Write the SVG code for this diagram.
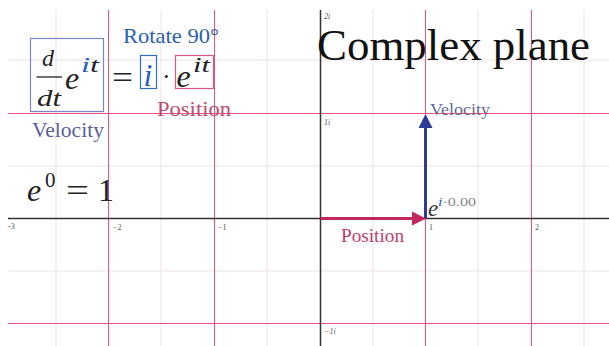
<svg xmlns="http://www.w3.org/2000/svg" width="609" height="346" viewBox="0 0 609 346">
<style>
.minor{stroke:#ebe1e5;stroke-width:1;fill:none}
.major{stroke:#e8507e;stroke-width:1;fill:none}
.axis{stroke:#333;stroke-width:1.5;fill:none}
text{font-family:"Liberation Serif","DejaVu Serif",serif}
.tick{font-size:8px;fill:#555}
.it{font-style:italic}
</style>
<rect width="609" height="346" fill="#fff"/>
<g id="grid">
<path class="minor" d="M56 10V346M161 10V346M267 10V346M373 10V346M478 10V346M584 10V346M8 60H609M8 166H609M8 271H609"/>
<path class="major" d="M108.5 10V346M214.5 10V346M425.5 10V346M531.5 10V346M8 113.5H609M8 323.5H609"/>
<path class="axis" d="M8 218.5H609M320.5 10V346"/>
<text class="tick" x="8" y="229">-3</text>
<text class="tick" x="113" y="230">−2</text>
<text class="tick" x="218" y="230">−1</text>
<text class="tick" x="429" y="230">1</text>
<text class="tick" x="535" y="230">2</text>
<text class="tick it" x="324" y="19">2i</text>
<text class="tick it" x="324" y="125">1i</text>
<text class="tick it" x="324" y="334">−1i</text>
</g>
<g id="title">
<text x="317" y="60" font-size="44" fill="#111" textLength="273" lengthAdjust="spacingAndGlyphs">Complex plane</text>
</g>
<g id="velocity-term">
<rect x="30.5" y="38.5" width="73" height="73" fill="none" stroke="#7b85cf" stroke-width="1.2"/>
<text class="it" x="42" y="66" font-size="24" fill="#222">d</text>
<line x1="36.5" y1="77" x2="62" y2="77" stroke="#222" stroke-width="1.3"/>
<text class="it" x="37" y="106" font-size="24" fill="#222" textLength="24" lengthAdjust="spacingAndGlyphs">dt</text>
<text class="it" x="65" y="89" font-size="32" fill="#222">e</text>
<text class="it" x="81" y="72" font-size="22" textLength="18" lengthAdjust="spacingAndGlyphs"><tspan fill="#2a5fc0">i</tspan><tspan fill="#223">t</tspan></text>
<text x="32" y="137" font-size="20" fill="#5a5fa0" textLength="72" lengthAdjust="spacingAndGlyphs">Velocity</text>
</g>
<g id="equals">
<text x="112" y="88" font-size="32" fill="#222" textLength="21" lengthAdjust="spacingAndGlyphs">=</text>
</g>
<g id="rotate-term">
<text x="123" y="43" font-size="22" fill="#2d5fb0" textLength="96" lengthAdjust="spacingAndGlyphs">Rotate 90°</text>
<rect x="140.5" y="55.5" width="16" height="33" fill="none" stroke="#2f6fc0" stroke-width="1.2"/>
<text class="it" x="143.5" y="86" font-size="32" fill="#2a5fc0">i</text>
<text x="162" y="85" font-size="26" fill="#222">·</text>
</g>
<g id="position-term">
<rect x="175.5" y="55.5" width="38" height="33" fill="none" stroke="#d65a7e" stroke-width="1.2"/>
<text class="it" x="176.5" y="87" font-size="32" fill="#222">e</text>
<text class="it" x="193" y="72" font-size="22" fill="#222" textLength="17" lengthAdjust="spacingAndGlyphs">it</text>
<text x="157" y="116" font-size="20" fill="#c04b70" textLength="74" lengthAdjust="spacingAndGlyphs">Position</text>
</g>
<g id="e0">
<text class="it" x="27" y="201" font-size="32" fill="#222">e</text>
<text x="45" y="187" font-size="21" fill="#222">0</text>
<text x="66" y="201" font-size="32" fill="#222" textLength="23" lengthAdjust="spacingAndGlyphs">=</text>
<text x="98" y="201" font-size="32" fill="#222">1</text>
</g>
<g id="connectors">
<line x1="425.5" y1="218.5" x2="425.5" y2="127" stroke="#2b3b96" stroke-width="3"/>
<polygon points="425.5,114 418.5,128 432.5,128" fill="#2b3b96"/>
<line x1="320.5" y1="218.5" x2="413" y2="218.5" stroke="#c2285c" stroke-width="3"/>
<polygon points="426,218.5 412,211.5 412,225.5" fill="#c2285c"/>
</g>
<g id="velocity-label">
<text x="430" y="115" font-size="16" fill="#656a98" textLength="60" lengthAdjust="spacingAndGlyphs">Velocity</text>
</g>
<g id="position-label">
<text x="341" y="242" font-size="18" fill="#c0406a" textLength="63" lengthAdjust="spacingAndGlyphs">Position</text>
</g>
<g id="point-label">
<text class="it" x="428" y="216" font-size="23" fill="#333">e</text>
<text x="438" y="206" font-size="13" textLength="38" lengthAdjust="spacingAndGlyphs"><tspan class="it" fill="#2a5fc0">i</tspan><tspan fill="#888">·0.00</tspan></text>
</g>
</svg>
